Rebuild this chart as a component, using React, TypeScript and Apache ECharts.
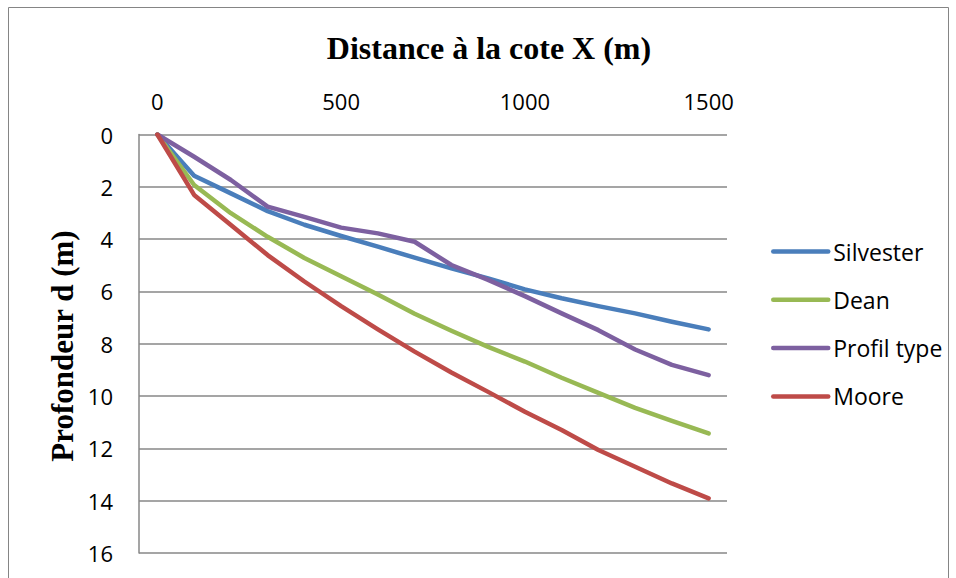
import React, { useEffect, useRef } from "react";
import * as echarts from "echarts";

const categories = ["0", "100", "200", "300", "400", "500", "600", "700", "800", "900", "1000", "1100", "1200", "1300", "1400", "1500"];
const silvester = [0, 1.58, 2.25, 2.93, 3.45, 3.88, 4.29, 4.71, 5.12, 5.5, 5.92, 6.26, 6.56, 6.84, 7.16, 7.45];
const dean = [0, 1.93, 3.01, 3.91, 4.72, 5.42, 6.12, 6.85, 7.5, 8.12, 8.68, 9.3, 9.88, 10.45, 10.95, 11.43];
const profilType = [0, 0.85, 1.74, 2.76, 3.15, 3.56, 3.78, 4.1, 4.99, 5.56, 6.18, 6.84, 7.48, 8.22, 8.81, 9.2];
const moore = [0, 2.31, 3.46, 4.61, 5.62, 6.56, 7.45, 8.3, 9.1, 9.84, 10.6, 11.3, 12.06, 12.7, 13.34, 13.91];
const seriesNames = ["Silvester", "Dean", "Profil type", "Moore"];
const seriesColors = ["#4A7EBB", "#98B954", "#7D60A0", "#BE4B48"];
const titleText = "Distance à la cote X (m)";
const yTitleText = "Profondeur d (m)";

export default function App() {
  const ref = useRef<HTMLDivElement>(null);
  useEffect(() => {
    if (!ref.current) return;
    const chart = echarts.init(ref.current, null, { renderer: "svg" });
    const values = [silvester, dean, profilType, moore];
    const gridColor = "#878787";
    chart.setOption({
      animation: false,
      backgroundColor: "#ffffff",
      grid: { left: 139, right: 229, top: 134.5, bottom: 25 },
      graphic: [
        {
          type: "polyline",
          shape: { points: [[8.5, 578], [8.5, 7.5], [948.5, 7.5], [948.5, 578]] },
          style: { stroke: "#858585", lineWidth: 1, fill: "none" },
          silent: true,
        },
        {
          type: "text",
          x: 489,
          y: 48,
          style: {
            text: titleText,
            fontFamily: '"Liberation Serif", "Times New Roman", serif',
            fontWeight: "bold",
            fontSize: 32,
            fill: "#000",
            align: "center",
            verticalAlign: "middle",
          },
        },
        {
          type: "text",
          x: 62,
          y: 346,
          rotation: Math.PI / 2,
          style: {
            text: yTitleText,
            fontFamily: '"Liberation Serif", "Times New Roman", serif',
            fontWeight: "bold",
            fontSize: 31,
            fill: "#000",
            align: "center",
            verticalAlign: "middle",
          },
        },
      ],
      legend: {
        orient: "vertical",
        left: 766,
        top: 235,
        itemWidth: 55,
        itemHeight: 24,
        itemGap: 25.3,
        data: seriesNames,
        itemStyle: { opacity: 0 },
        lineStyle: { width: 4.5, cap: "round" },
        textStyle: { fontFamily: '"Open Sans", sans-serif', fontSize: 23, color: "#000" },
      },
      xAxis: {
        type: "category",
        position: "top",
        data: categories,
        boundaryGap: true,
        axisLine: { show: false },
        axisTick: { show: false },
        splitLine: { show: false },
        axisLabel: {
          interval: 4,
          margin: 23,
          fontFamily: '"Open Sans", sans-serif',
          fontSize: 22,
          color: "#000",
        },
      },
      yAxis: {
        type: "value",
        inverse: true,
        min: 0,
        max: 16,
        interval: 2,
        axisLine: { show: true, lineStyle: { color: gridColor, width: 1.5 } },
        axisTick: { show: false },
        splitLine: { show: true, lineStyle: { color: gridColor, width: 1.5 } },
        axisLabel: {
          margin: 26,
          fontFamily: '"Open Sans", sans-serif',
          fontSize: 22,
          color: "#000",
        },
      },
      series: seriesNames.map((name, i) => ({
        name,
        type: "line",
        data: values[i],
        symbol: "none",
        showSymbol: false,
        smooth: false,
        color: seriesColors[i],
        lineStyle: { width: 4.5, color: seriesColors[i], cap: "round", join: "round" },
        emphasis: { disabled: true },
      })),
    });
    return () => chart.dispose();
  }, []);
  return (
    <div
      ref={ref}
      style={{ position: "fixed", left: 0, top: 0, width: 956, height: 578 }}
    />
  );
}
